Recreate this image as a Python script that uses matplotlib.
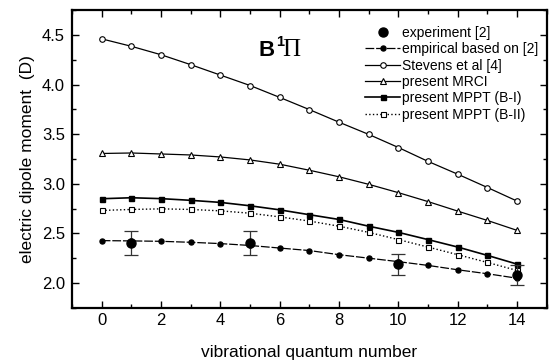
import matplotlib
matplotlib.use("Agg")
import matplotlib.pyplot as plt
from matplotlib.lines import Line2D
from matplotlib.ticker import MultipleLocator

plt.rcParams["font.family"] = ["Liberation Sans", "DejaVu Sans"]

v = list(range(15))

# dipole moments (D) per vibrational level
stevens = [4.46, 4.385, 4.30, 4.20, 4.095, 3.99, 3.87, 3.747, 3.62, 3.497,
           3.365, 3.225, 3.096, 2.962, 2.825]
mrci = [3.305, 3.31, 3.30, 3.29, 3.27, 3.24, 3.197, 3.136, 3.07, 2.994,
        2.91, 2.82, 2.724, 2.63, 2.53]
mppt_b1 = [2.849, 2.859, 2.85, 2.833, 2.812, 2.778, 2.737, 2.688, 2.64, 2.572,
           2.51, 2.437, 2.362, 2.278, 2.19]
mppt_b2 = [2.731, 2.741, 2.747, 2.741, 2.727, 2.703, 2.666, 2.624, 2.572, 2.51,
           2.437, 2.362, 2.285, 2.207, 2.126]
empirical = [2.427, 2.424, 2.42, 2.41, 2.397, 2.378, 2.352, 2.327, 2.285, 2.25,
             2.215, 2.177, 2.133, 2.093, 2.048]

exp_v = [1, 5, 10, 14]
exp_mu = [2.40, 2.40, 2.19, 2.08]
exp_err = [0.12, 0.12, 0.105, 0.10]

fig = plt.figure(figsize=(5.54, 3.6), dpi=100)
ax = fig.add_axes([0.130, 0.145, 0.857, 0.827])

ax.errorbar(exp_v, exp_mu, yerr=exp_err, fmt="o", color="black", ms=6.5,
            elinewidth=0.9, capsize=5, capthick=0.9, ecolor="#333333",
            zorder=5)
l_emp, = ax.plot(v, empirical, "-", color="black", lw=0.9, marker="o", ms=3.6,
                 dashes=(7, 1.5))
l_ste, = ax.plot(v, stevens, "-", color="black", lw=0.9, marker="o", ms=4,
                 mfc="white", mew=0.8)
l_mrci, = ax.plot(v, mrci, "-", color="black", lw=0.9, marker="^", ms=4.2,
                  mfc="white", mew=0.8)
l_b1, = ax.plot(v, mppt_b1, "-", color="black", lw=1.2, marker="s", ms=3.6)
l_b2, = ax.plot(v, mppt_b2, ":", color="black", lw=1.0, marker="s", ms=3.6,
                mfc="white", mew=0.8)

ax.set_xlim(-1, 15)
ax.set_ylim(1.75, 4.75)
ax.xaxis.set_major_locator(MultipleLocator(2))
ax.xaxis.set_minor_locator(MultipleLocator(1))
ax.yaxis.set_major_locator(MultipleLocator(0.5))
ax.yaxis.set_minor_locator(MultipleLocator(0.25))
ax.tick_params(which="both", direction="in", top=True, right=True,
               labelsize=12, width=1.0)
ax.tick_params(which="major", length=5)
ax.tick_params(which="minor", length=3)
ax.tick_params(axis="x", pad=4)
ax.tick_params(axis="y", pad=5)
for s in ax.spines.values():
    s.set_linewidth(1.6)

ax.set_xlabel("vibrational quantum number", fontsize=12.5, labelpad=12)
ax.set_ylabel("electric dipole moment  (D)", fontsize=12.5, labelpad=5)

# state label B^1 Pi
ax.text(5.28, 4.287, "B", fontsize=16, fontweight="bold", ha="left",
        va="baseline")
ax.text(5.88, 4.385, "1", fontsize=10.5, fontweight="bold", ha="left",
        va="baseline")
ax.text(6.1, 4.287, "\u03a0", fontsize=18, ha="left", va="baseline",
        family="Liberation Serif")

exp_handle = Line2D([], [], ls="none", marker="o", color="black", ms=6.5)
handles = [exp_handle, l_emp, l_ste, l_mrci, l_b1, l_b2]
labels = ["experiment [2]", "empirical based on [2]", "Stevens et al [4]",
          "present MRCI", "present MPPT (B-I)", "present MPPT (B-II)"]
ax.legend(handles, labels, loc="upper right", bbox_to_anchor=(1.0, 0.975),
          frameon=False, fontsize=10, handlelength=2.5, handletextpad=0.15,
          labelspacing=0.17, borderaxespad=0.2)

fig.savefig("out.png", dpi=100)
